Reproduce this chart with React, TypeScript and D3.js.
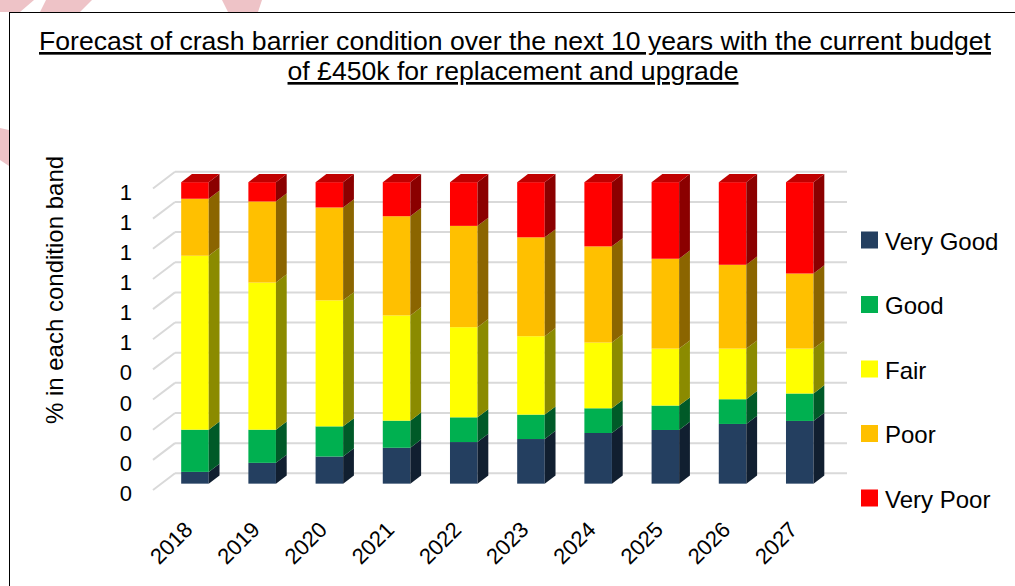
import * as React from "react";
import * as d3 from "d3";

const years = ["2018", "2019", "2020", "2021", "2022", "2023", "2024", "2025", "2026", "2027"];
const veryGood = [0.039, 0.069, 0.09, 0.119, 0.138, 0.148, 0.168, 0.178, 0.198, 0.208];
const good = [0.14, 0.11, 0.1, 0.09, 0.082, 0.081, 0.082, 0.081, 0.082, 0.091];
const fair = [0.577, 0.488, 0.418, 0.349, 0.299, 0.26, 0.218, 0.189, 0.168, 0.149];
const poor = [0.189, 0.269, 0.308, 0.329, 0.336, 0.328, 0.319, 0.298, 0.278, 0.249];
const veryPoor = [0.055, 0.064, 0.084, 0.113, 0.145, 0.183, 0.213, 0.254, 0.274, 0.303];

const seriesNames = ["Very Good", "Good", "Fair", "Poor", "Very Poor"];
const yTicks = [0, 0.1, 0.2, 0.3, 0.4, 0.5, 0.6, 0.7, 0.8, 0.9, 1];
const yTickLabels = ["0", "0", "0", "0", "0", "1", "1", "1", "1", "1", "1"];

const frontColors = ["#243F60", "#00B050", "#FFFF00", "#FFC000", "#FF0000"];
const sideColors = ["#111F30", "#005A28", "#8B8B00", "#8B6500", "#8B0000"];
const topColors = ["#1B2F48", "#00843C", "#BFBF00", "#BF9000", "#C00000"];

const font = "'Liberation Sans', Arial, sans-serif";

export default function App() {
  const table = years.map((year, i) => ({
    year,
    "Very Good": veryGood[i],
    Good: good[i],
    Fair: fair[i],
    Poor: poor[i],
    "Very Poor": veryPoor[i],
  }));
  const stacked = d3.stack().keys(seriesNames)(table as any);

  // front plane of the 3d box, plus the depth vector
  const x = d3.scaleBand().domain(years).range([153, 825]).paddingInner(0.59).paddingOuter(0.295);
  const y = d3.scaleLinear().domain([0, 1]).range([490, 188.5]);
  const depth = { dx: 22, dy: -16.7 };
  const t0 = 0.38; // bar front position inside the depth
  const t1 = 0.49; // bar thickness
  const fx = depth.dx * t0;
  const fy = depth.dy * t0;
  const sx = depth.dx * t1;
  const sy = depth.dy * t1;

  const x0 = x.range()[0];
  const x1 = x.range()[1];
  const poly = (pts: number[][]) => "M" + pts.map((p) => p.join(",")).join("L") + "Z";

  return (
    <svg width={1015} height={586} style={{ position: "absolute", left: 0, top: 0, display: "block" }} fontFamily={font}>
      {/* watermark bits peeking out behind the frame */}
      <path d="M0,0 L34,0 L20,12 L0,12 Z" fill="#eec3c7" />
      <path d="M46,0 L92,0 L80,12 L40,12 Z" fill="#eec3c7" />
      <path d="M222,0 L262,0 L258,12 L228,12 Z" fill="#eec3c7" />
      <path d="M0,128 L9,130 L9,166 L0,160 Z" fill="#eec3c7" />
      <rect x={9.5} y={12.5} width={1020} height={600} fill="#fff" stroke="#000" strokeWidth={1} />

      <text x={515} y={50} textAnchor="middle" fontSize={26.6} textDecoration="underline" fill="#000">
        Forecast of crash barrier condition over the next 10 years with the current budget
      </text>
      <text x={513} y={80} textAnchor="middle" fontSize={26.6} textDecoration="underline" fill="#000">
        of £450k for replacement and upgrade
      </text>

      {/* walls: side gridlines and back gridlines */}
      <g stroke="#d9d9d9" strokeWidth={2} fill="none">
        {yTicks.map((v) => (
          <g key={v}>
            <line x1={x0} y1={y(v)} x2={x0 + depth.dx} y2={y(v) + depth.dy} />
            <line x1={x0 + depth.dx} y1={y(v) + depth.dy} x2={x1 + depth.dx} y2={y(v) + depth.dy} />
          </g>
        ))}
      </g>

      {yTicks.map((v, i) => (
        <text key={v} x={132} y={y(v) + 3.5} textAnchor="end" dominantBaseline="central" fontSize={22} fill="#000">
          {yTickLabels[i]}
        </text>
      ))}

      <text transform="translate(63,290) rotate(-90)" textAnchor="middle" fontSize={24} fill="#000">
        % in each condition band
      </text>

      {stacked.map((s, si) => (
        <g key={s.key}>
          {s.map((d: any) => {
            const year = d.data.year;
            const xl = (x(year) as number) + fx;
            const xr = xl + x.bandwidth();
            const yb = y(d[0]) + fy;
            const yt = y(d[1]) + fy;
            const isTop = si === stacked.length - 1;
            return (
              <g key={year}>
                <rect x={xl} y={yt} width={xr - xl} height={yb - yt} fill={frontColors[si]} />
                <path d={poly([[xr, yb], [xr, yt], [xr + sx, yt + sy], [xr + sx, yb + sy]])} fill={sideColors[si]} />
                {isTop && (
                  <path d={poly([[xl, yt], [xr, yt], [xr + sx, yt + sy], [xl + sx, yt + sy]])} fill={topColors[si]} />
                )}
              </g>
            );
          })}
        </g>
      ))}

      {years.map((year) => {
        const cx = (x(year) as number) + fx + x.bandwidth() / 2;
        return (
          <text key={year} transform={`translate(${cx - 1},531) rotate(-45)`} textAnchor="end" fontSize={22} fill="#000">
            {year}
          </text>
        );
      })}

      {seriesNames.map((name, i) => {
        const ly = 240 + i * 64.5;
        return (
          <g key={name}>
            <rect x={861} y={ly - 8.5} width={17} height={17} fill={frontColors[i]} />
            <text x={885} y={ly + 1} dominantBaseline="central" fontSize={24} fill="#000">
              {name}
            </text>
          </g>
        );
      })}
    </svg>
  );
}
